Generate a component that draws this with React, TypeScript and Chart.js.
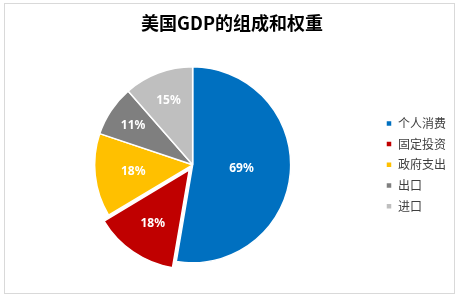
import React, { useEffect, useRef } from "react";
import { Chart, registerables } from "chart.js";

Chart.register(...registerables);

const titleText = "美国GDP的组成和权重";
const categories = ["个人消费", "固定投资", "政府支出", "出口", "进口"];
const shares = [69, 18, 18, 11, 15];
const sliceColors = ["#0070C0", "#C00000", "#FFC000", "#7F7F7F", "#BFBFBF"];
const sliceOffsets = [0, 24, 0, 0, 0];
const labelDistance = [0.5, 0.66, 0.61, 0.73, 0.7];

const framePlugin = {
  id: "frame",
  beforeDraw(chart: any) {
    const ctx = chart.ctx;
    ctx.save();
    ctx.fillStyle = "#ffffff";
    ctx.fillRect(0, 0, chart.width, chart.height);
    ctx.strokeStyle = "#D9D9D9";
    ctx.lineWidth = 1;
    ctx.strokeRect(4.5, 3.5, 450, 290);
    ctx.restore();
  },
};

const pctLabelPlugin = {
  id: "pctLabels",
  afterDatasetsDraw(chart: any) {
    const ctx = chart.ctx;
    const meta = chart.getDatasetMeta(0);
    const data = chart.data.datasets[0].data;
    ctx.save();
    ctx.fillStyle = "#ffffff";
    ctx.font = "bold 12px 'Noto Sans', sans-serif";
    ctx.textAlign = "center";
    ctx.textBaseline = "middle";
    meta.data.forEach((arc: any, i: number) => {
      const p = arc.getProps(["x", "y", "startAngle", "endAngle", "outerRadius"], true);
      const mid = (p.startAngle + p.endAngle) / 2;
      const off = (arc.options.offset || 0) / 4;
      const d = p.outerRadius * labelDistance[i] + off;
      ctx.fillText(data[i] + "%", p.x + Math.cos(mid) * d, p.y + Math.sin(mid) * d);
    });
    ctx.restore();
  },
};

export default function App() {
  const ref = useRef<HTMLCanvasElement>(null);
  useEffect(() => {
    if (!ref.current) return;
    const chart = new Chart(ref.current, {
      type: "pie",
      data: {
        labels: categories,
        datasets: [
          {
            data: shares,
            backgroundColor: sliceColors,
            borderColor: "#ffffff",
            borderWidth: 1.5,
            offset: sliceOffsets,
            radius: 98,
          } as any,
        ],
      },
      options: {
        animation: false,
        responsive: false,
        layout: { padding: { top: 12, bottom: 10, left: 8, right: 4 } },
        plugins: {
          title: {
            display: true,
            text: titleText,
            color: "#000000",
            font: { family: "'Noto Sans CJK SC'", size: 18, weight: "bold" },
            padding: { top: 0, bottom: 6 },
          },
          legend: {
            position: "right",
            fullSize: false,
            labels: {
              boxWidth: 6,
              boxHeight: 6,
              padding: 8.7,
              color: "#404040",
              font: { family: "'Noto Sans CJK SC'", size: 12 },
            },
          },
          tooltip: { enabled: false },
        },
      },
      plugins: [framePlugin, pctLabelPlugin],
    });
    return () => chart.destroy();
  }, []);
  return (
    <div style={{ position: "fixed", left: 0, top: 0, width: 460, height: 300 }}>
      <canvas ref={ref} width={460} height={300} />
    </div>
  );
}
